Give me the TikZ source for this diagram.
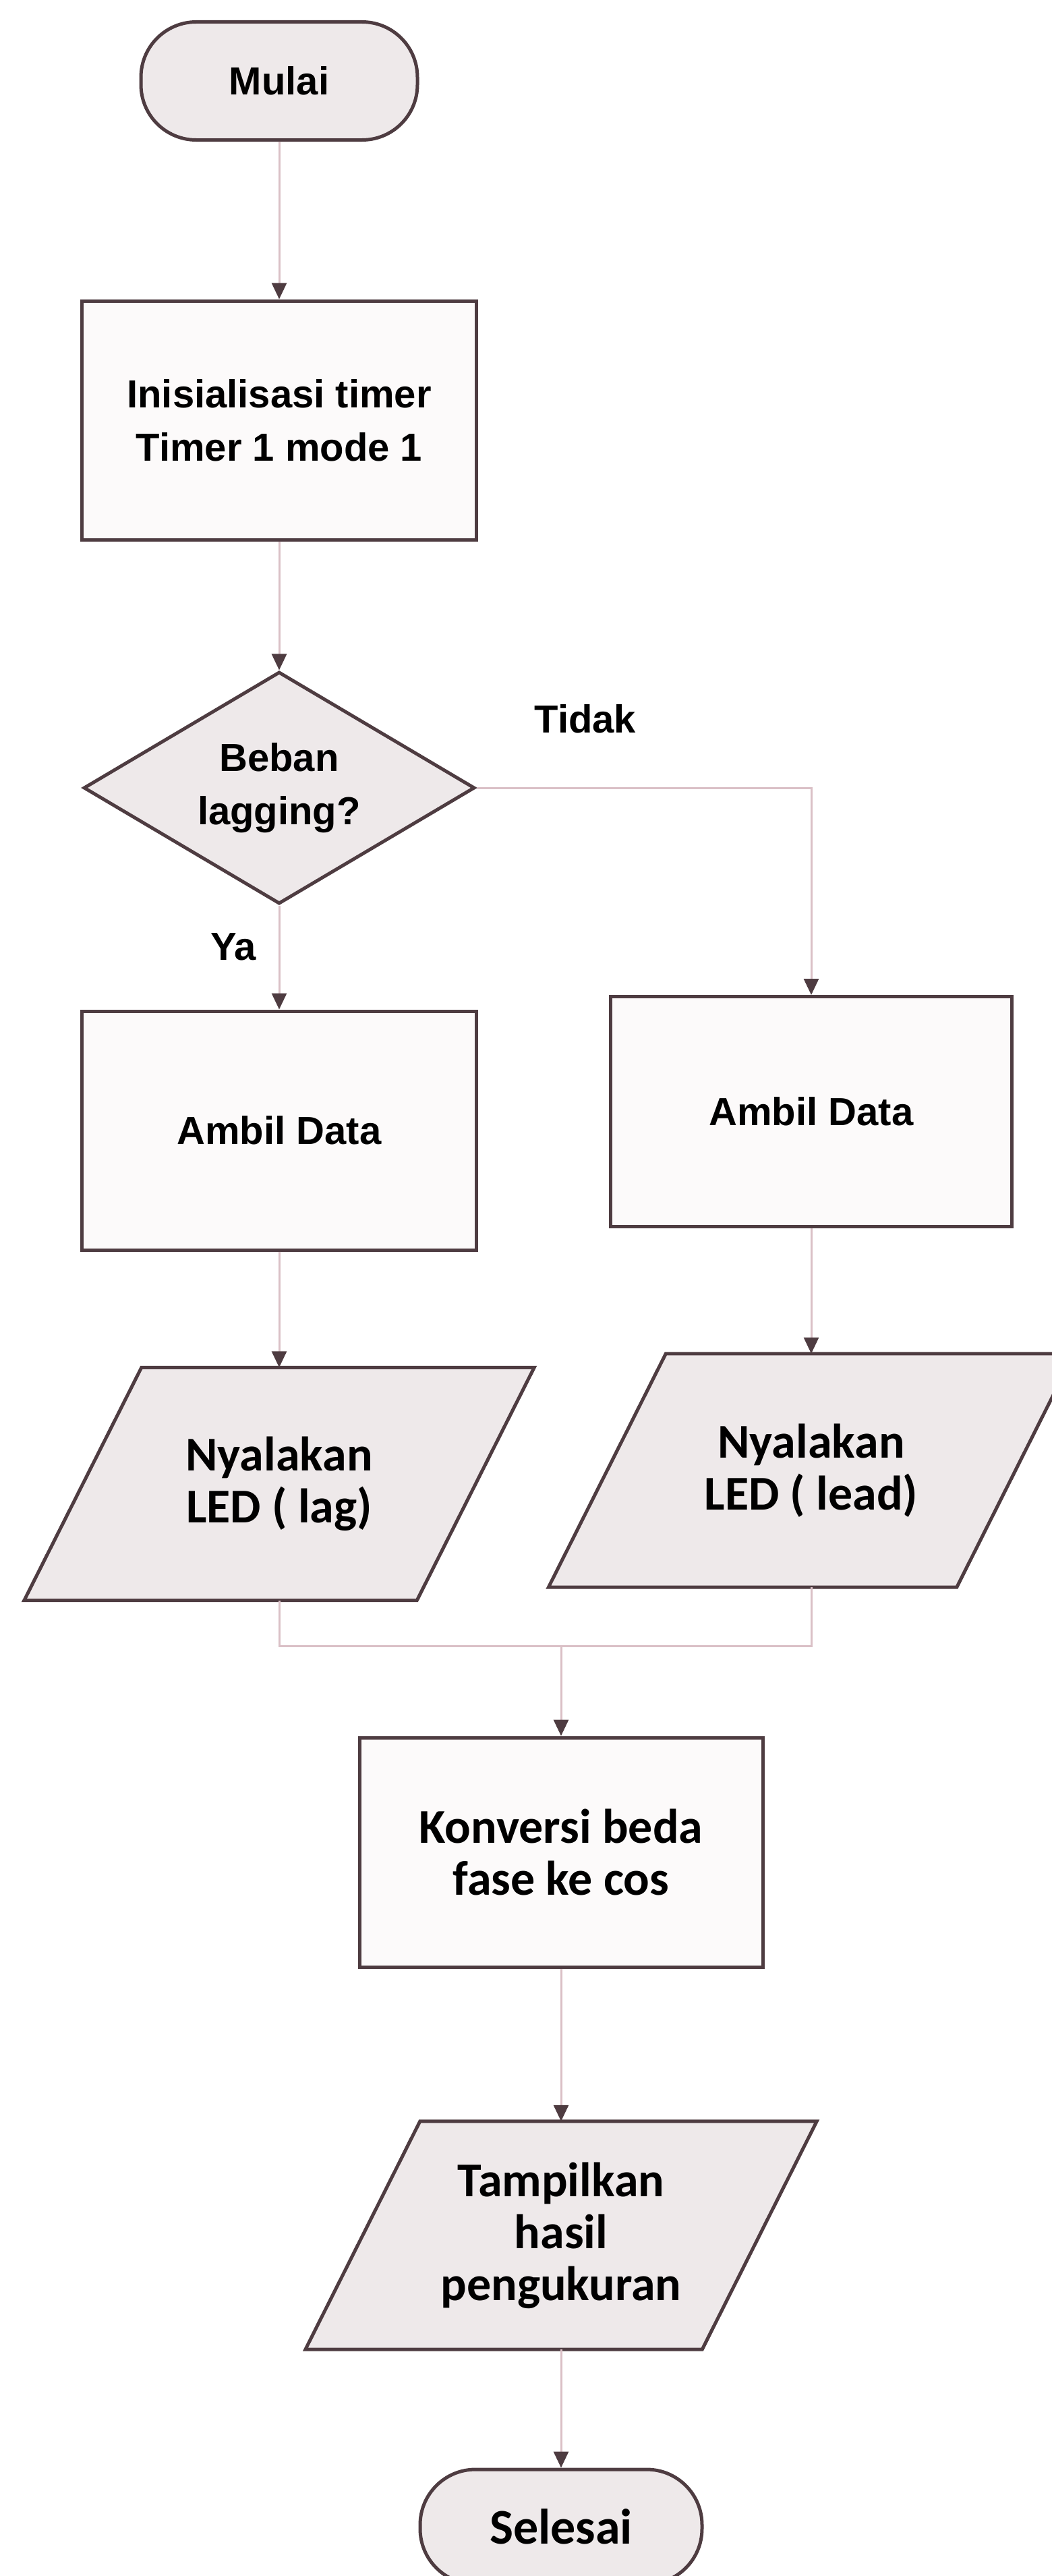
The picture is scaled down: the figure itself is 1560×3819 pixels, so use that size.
\documentclass[tikz,border=0pt]{standalone}
\usepackage{fontspec}
\setmainfont{Liberation Sans}
\newfontfamily\calfont{Carlito}
\usetikzlibrary{positioning,arrows.meta,shapes.geometric,backgrounds}
\definecolor{edgecol}{RGB}{78,60,65}
\definecolor{linecol}{RGB}{218,192,198}
\definecolor{shadefill}{RGB}{238,233,234}
\definecolor{boxfill}{RGB}{252,250,250}
\tikzset{
  flowline/.style={draw=linecol, line width=3pt, -{Triangle[length=24pt, width=22pt, color=edgecol]}},
  joinline/.style={draw=linecol, line width=3pt},
  termbox/.style={draw=edgecol, line width=5pt, rounded corners=82pt, fill=shadefill, minimum width=410pt, minimum height=175pt, align=center, font=\bfseries\fontsize{58}{79}\selectfont},
  procbox/.style={draw=edgecol, line width=5pt, fill=boxfill, minimum width=585pt, minimum height=354pt, align=center, font=\bfseries\fontsize{58}{79}\selectfont},
  decision/.style={draw=edgecol, line width=5pt, diamond, aspect=1.69, inner sep=0pt, fill=shadefill, minimum width=580pt, minimum height=344pt, align=center, font=\bfseries\fontsize{58}{79}\selectfont},
  iobox/.style={rectangle, inner sep=0pt, minimum width=582pt, minimum height=345pt, align=center, font=\calfont\bfseries\fontsize{72}{77}\selectfont},
  ioshape/.style={draw=edgecol, line width=5pt, fill=shadefill},
  branchlabel/.style={font=\bfseries\fontsize{58}{79}\selectfont}
}
\begin{document}
\begin{tikzpicture}[x=1pt, y=-1pt]
  \useasboundingbox (0,0) rectangle (1560,3819);
  % left column
  \node[termbox] (mulai) at (414,120) {Mulai};
  \node[procbox] (init) at (414,623) {Inisialisasi timer\\Timer 1 mode 1};
  \node[decision] (cek) at (414,1168) {Beban\\lagging?};
  \node[procbox] (ambilya) at (414,1676) {Ambil Data};
  \node[iobox] (ledlag) at (414,2200) {Nyalakan\\LED ( lag)};
  % right column
  \node[procbox, minimum height=341pt, minimum width=595pt] (ambiltidak) at (1203,1648) {Ambil Data};
  \node[iobox, minimum width=605pt, minimum height=346pt] (ledlead) at (1203,2180) {Nyalakan\\LED ( lead)};
  % centre column
  \coordinate (gabung) at (832,2440);
  \node[procbox, minimum width=598pt, minimum height=340pt, font=\calfont\bfseries\fontsize{72}{77}\selectfont] (konversi) at (832,2746) {Konversi beda\\fase ke cos};
  \node[iobox, minimum width=588pt, minimum height=338pt] (tampil) at (832,3314) {Tampilkan\\hasil\\pengukuran};
  \node[termbox, minimum width=418pt, minimum height=170pt, font=\calfont\bfseries\fontsize{74}{77}\selectfont] (selesai) at (832,3746) {Selesai};
  \node[branchlabel] (tidak) at (868,1066) {Tidak};
  \node[branchlabel] (ya) at (346,1404) {Ya};

  % jajaran genjang (input/output)
  \begin{scope}[on background layer]
    \draw[ioshape] ([xshift=87pt]ledlag.north west) -- ([xshift=87pt]ledlag.north east) -- ([xshift=-87pt]ledlag.south east) -- ([xshift=-87pt]ledlag.south west) -- cycle;
    \draw[ioshape] ([xshift=87pt]ledlead.north west) -- ([xshift=87pt]ledlead.north east) -- ([xshift=-87pt]ledlead.south east) -- ([xshift=-87pt]ledlead.south west) -- cycle;
    \draw[ioshape] ([xshift=85pt]tampil.north west) -- ([xshift=85pt]tampil.north east) -- ([xshift=-85pt]tampil.south east) -- ([xshift=-85pt]tampil.south west) -- cycle;
  \end{scope}

  \draw[flowline] (mulai) -- (init);
  \draw[flowline] (init) -- (cek);
  \draw[flowline] (cek) -- (ambilya);
  \draw[flowline] (cek) -| (ambiltidak);
  \draw[flowline] (ambilya) -- (ledlag);
  \draw[flowline] (ambiltidak) -- (ledlead);
  \draw[joinline] (ledlag) |- (gabung);
  \draw[joinline] (ledlead) |- (gabung);
  \draw[flowline] (gabung) -- (konversi);
  \draw[flowline] (konversi) -- (tampil);
  \draw[flowline] (tampil) -- (selesai);
\end{tikzpicture}
\end{document}
